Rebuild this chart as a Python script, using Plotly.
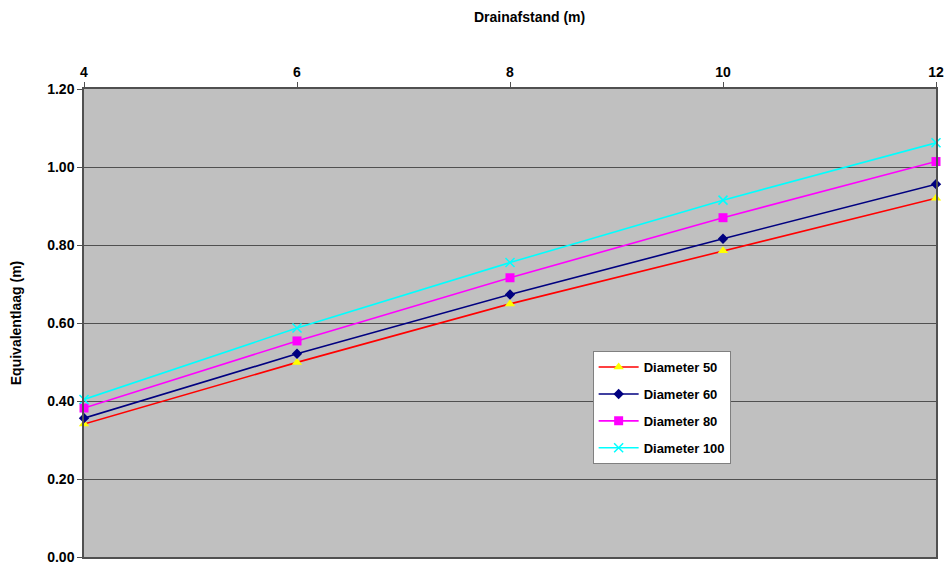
import plotly.graph_objects as go

# Drain spacing (m)
drainafstand = [4, 6, 8, 10, 12]

# Equivalent layer thickness (m) per drain diameter
diameter_50 = [0.341, 0.499, 0.649, 0.785, 0.920]
diameter_60 = [0.356, 0.521, 0.673, 0.816, 0.956]
diameter_80 = [0.382, 0.554, 0.716, 0.870, 1.014]
diameter_100 = [0.404, 0.587, 0.755, 0.915, 1.062]

y_ticks = [0.0, 0.2, 0.4, 0.6, 0.8, 1.0, 1.2]
x_ticks = [4, 6, 8, 10, 12]

series = [
    ("Diameter 50", diameter_50, "#FF0000",
     dict(symbol="triangle-up", color="#FFFF00", size=9, line=dict(width=0))),
    ("Diameter 60", diameter_60, "#000080",
     dict(symbol="diamond", color="#000080", size=8, line=dict(width=0))),
    ("Diameter 80", diameter_80, "#FF00FF",
     dict(symbol="square", color="#FF00FF", size=9, line=dict(width=0))),
    ("Diameter 100", diameter_100, "#00FFFF",
     dict(symbol="x-thin-open", color="#00FFFF", size=9, line=dict(width=1.5, color="#00FFFF"))),
]

fig = go.Figure()
for name, vals, col, mk in series:
    fig.add_trace(go.Scatter(
        x=drainafstand, y=vals, name=name, mode="lines+markers",
        legendgroup=name,
        line=dict(color=col, width=1.6), marker=mk, cliponaxis=False,
    ))

font_family = "Liberation Sans, Arial, sans-serif"

fig.update_layout(
    width=950, height=565,
    margin=dict(l=84, r=14, t=89, b=8),
    paper_bgcolor="white",
    plot_bgcolor="#C0C0C0",
    font=dict(family=font_family, size=14, color="black"),
    showlegend=True,
    legend=dict(
        x=0.597, y=0.44, xanchor="left", yanchor="top",
        bgcolor="white", bordercolor="#808080", borderwidth=1,
        font=dict(family=font_family, size=13, color="black", weight="bold"),
        tracegroupgap=7, itemwidth=40,
    ),
    annotations=[dict(
        text="<b>Drainafstand (m)</b>", xref="paper", yref="paper",
        x=0.523, y=1.0, yshift=72, xanchor="center", yanchor="middle",
        showarrow=False, font=dict(family=font_family, size=14),
    )],
)

fig.update_xaxes(
    side="top", range=[4, 12], tickvals=x_ticks,
    ticktext=[f"<b>{v}</b>" for v in x_ticks],
    showgrid=False, zeroline=False, automargin=False,
    showline=True, linecolor="#505050", linewidth=1.5, mirror=True,
    ticks="outside", ticklen=5, tickcolor="#505050",
    tickfont=dict(family=font_family, size=14),
)
fig.update_yaxes(
    range=[0, 1.2], tickvals=y_ticks,
    ticktext=[f"<b>{v:.2f}</b>" for v in y_ticks],
    showgrid=True, gridcolor="#505050", gridwidth=1,
    zeroline=False, automargin=False,
    showline=True, linecolor="#505050", linewidth=1.5, mirror=True,
    ticks="outside", ticklen=5, tickcolor="#505050",
    tickfont=dict(family=font_family, size=14),
    title=dict(text="<b>Equivalentlaag (m)</b>", standoff=22,
               font=dict(family=font_family, size=14)),
)

fig.write_html("out.html")
